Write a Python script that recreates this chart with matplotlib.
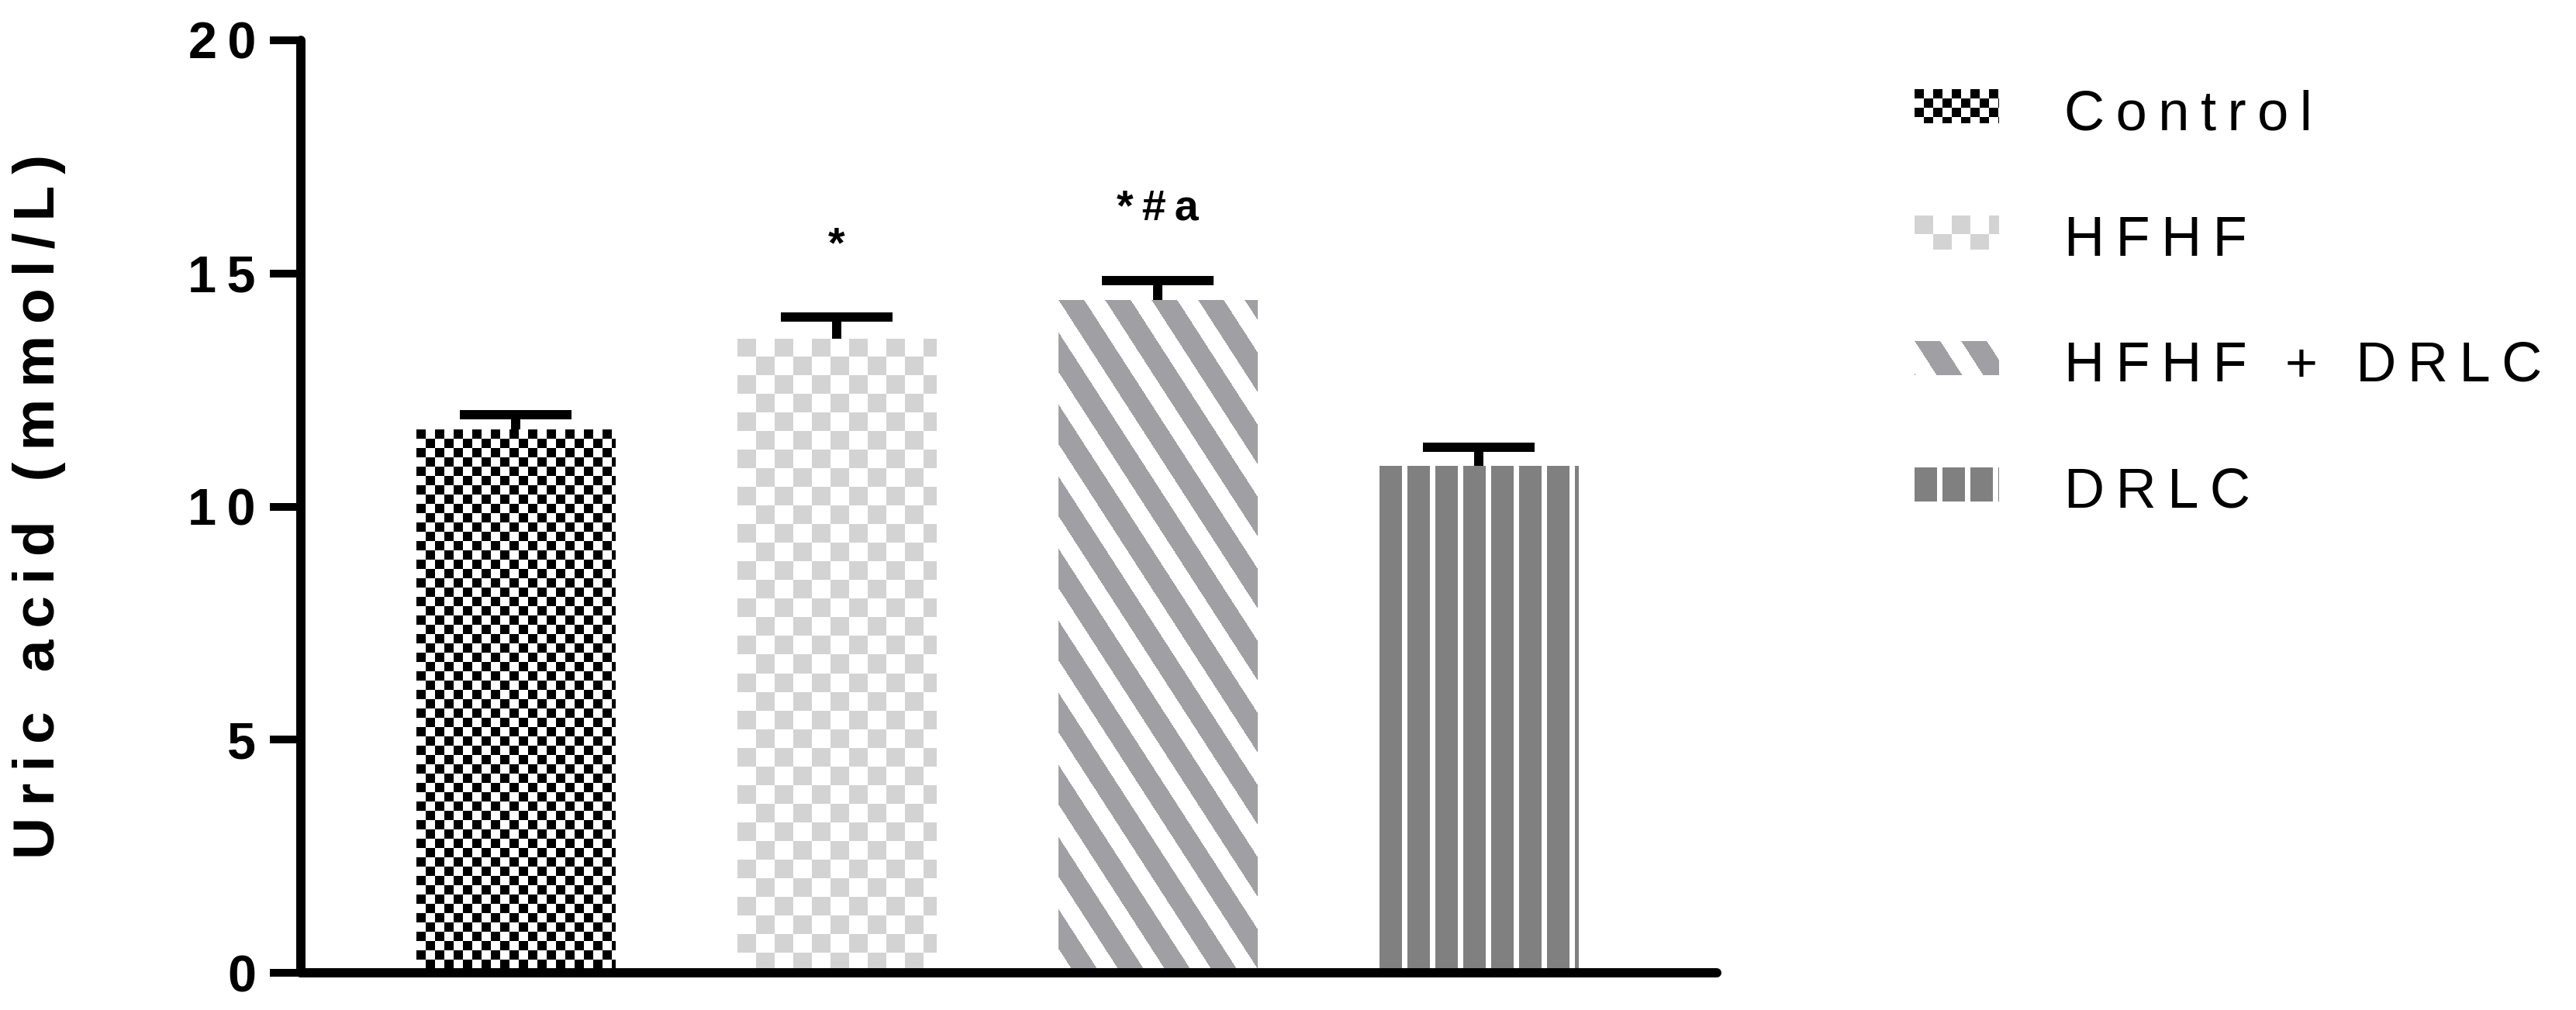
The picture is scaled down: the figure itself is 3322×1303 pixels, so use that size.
import numpy as np
import matplotlib
matplotlib.use('Agg')
import matplotlib.pyplot as plt

groups = ['Control', 'HFHF', 'HFHF + DRLC', 'DRLC']
means = [11.65, 13.6, 14.43, 10.87]
sems = [0.32, 0.46, 0.42, 0.40]
marks = ['', '*', '*#a', '']
yticks = [0, 5, 10, 15, 20]
ylabel = 'Uric acid (mmol/L)'

# fill pattern for each group: (kind, colour)
pats = [('check12', '#000000'), ('check24', '#d3d3d3'),
        ('diag', '#a0a0a4'), ('vert', '#808080')]

fam = ['Liberation Sans', 'DejaVu Sans']
TS = '\u2009'  # thin space


def spaced(s):
    # GraphPad style letter spacing
    return (TS + ' ' + TS).join(TS.join(w) for w in s.split(' '))


def make_pattern(pat, w, h):
    kind, col = pat
    yy, xx = np.mgrid[0:h, 0:w]
    if kind == 'check12':
        on = (xx // 12 + yy // 12) % 2 == 0
    elif kind == 'check24':
        on = (xx // 24 + yy // 24) % 2 == 0
    elif kind == 'diag':
        on = ((xx - yy / 1.55) % 60) < 33
    else:
        on = (xx % 36) < 29
    rgb = np.array(matplotlib.colors.to_rgb(col))
    img = np.ones((h, w, 3))
    img[on] = rgb
    return img


W, H = 3323, 1303
fig = plt.figure(figsize=(W / 100, H / 100), dpi=100)
ax = fig.add_axes([388 / W, 48 / H, (2214 - 388) / W, (1251 - 48) / H])

x = np.arange(len(groups))
ax.set_xlim(-0.669, 3.742)
ax.set_ylim(0, 20)

bars = ax.bar(x, means, width=0.62, color='white', linewidth=0, zorder=1)
for b, pat in zip(bars, pats):
    (x0, y0), (x1, y1) = ax.transData.transform(
        [(b.get_x(), 0), (b.get_x() + b.get_width(), b.get_height())])
    img = make_pattern(pat, int(round(x1 - x0)), int(round(y1 - y0)))
    im = ax.imshow(img, extent=(b.get_x(), b.get_x() + b.get_width(), 0, b.get_height()),
                   aspect='auto', interpolation='nearest', zorder=2)
    im.set_clip_path(b)

# only the upper half of the SEM bar, like GraphPad
eb = ax.errorbar(x, means, yerr=[np.zeros(len(sems)), sems], fmt='none', ecolor='black',
                 elinewidth=8.6, capsize=52, capthick=8.6, zorder=3)
eb[1][0].remove()

for xi, m, s, t in zip(x, means, sems, marks):
    if t:
        ax.text(xi, m + s + 1.3, spaced(t), ha='center', va='baseline',
                fontsize=40, fontweight='bold', family=fam)

ax.set_xlim(-0.669, 3.742)
ax.set_ylim(0, 20)
ax.set_xticks([])
ax.set_yticks(yticks, [TS.join(str(t)) for t in yticks])
for lab in ax.get_yticklabels():
    lab.set_fontsize(48)
    lab.set_fontweight('bold')
    lab.set_family(fam)
ax.tick_params(axis='y', direction='out', length=28.8, width=7.2, pad=13)
for side in ['top', 'right']:
    ax.spines[side].set_visible(False)
for side in ['left', 'bottom']:
    ax.spines[side].set_linewidth(8.6)
    ax.spines[side].set_capstyle('round')

ax.set_ylabel(spaced(ylabel), fontsize=54, fontweight='bold', family=fam)
ax.yaxis.set_label_coords(-0.166, 0.5)

# legend drawn by hand so the pixel patterns match
for i, (g, pat) in enumerate(zip(groups, pats)):
    base = 167 + i * 162.5
    cy = base - 30
    fig.figimage(make_pattern(pat, 109, 44), xo=2469, yo=int(H - (cy + 22)),
                 origin='upper', zorder=5)
    fig.text(2662 / W, 1 - base / H, spaced(g), fontsize=52, va='baseline',
             ha='left', family=fam)

fig.savefig('out.png', dpi=100)
